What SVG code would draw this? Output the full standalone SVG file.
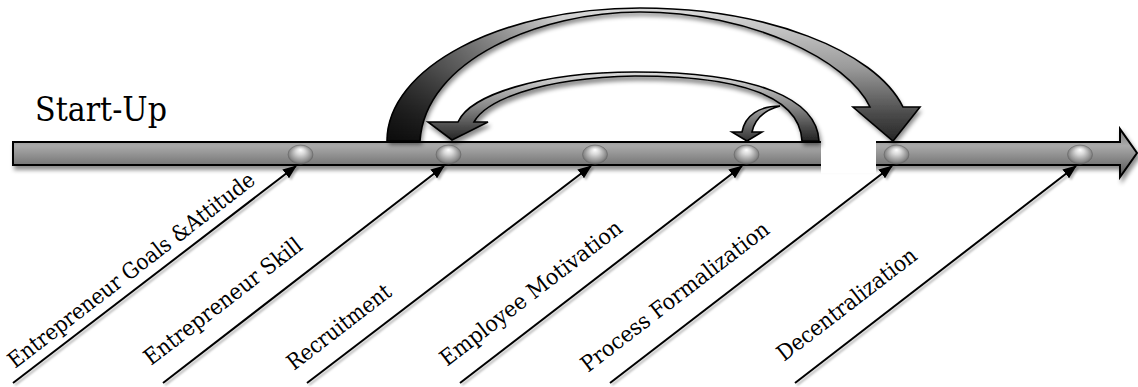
<svg xmlns="http://www.w3.org/2000/svg" width="1138" height="387" viewBox="0 0 1138 387">
  <defs>
    <style>
      .lbl { font-family: "DejaVu Serif", "Liberation Serif", serif; font-size: 22px; fill: #000; }
      .title { font-family: "DejaVu Serif", "Liberation Serif", serif; font-size: 34px; fill: #000; }
      .diag { stroke: #000; stroke-width: 2; fill: none; marker-end: url(#tri); }
      .arcline { stroke: #000; stroke-width: 1.6; stroke-linejoin: miter; }
      .bead { fill: url(#beadGrad); stroke: #6a6a6a; stroke-width: 0.6; }
    </style>
    <linearGradient id="barGrad" x1="0" y1="0" x2="0" y2="1">
      <stop offset="0" stop-color="#7c7c7c"/>
      <stop offset="0.35" stop-color="#aaaaaa"/>
      <stop offset="1" stop-color="#555555"/>
    </linearGradient>
    <linearGradient id="bigGrad" x1="0" y1="0" x2="0" y2="1">
      <stop offset="0" stop-color="#dadada"/>
      <stop offset="0.45" stop-color="#9a9a9a"/>
      <stop offset="0.8" stop-color="#4a4a4a"/>
      <stop offset="1" stop-color="#262626"/>
    </linearGradient>
    <linearGradient id="bigShade" gradientUnits="userSpaceOnUse" x1="387" y1="0" x2="560" y2="0">
      <stop offset="0" stop-color="#000" stop-opacity="0.7"/>
      <stop offset="0.5" stop-color="#000" stop-opacity="0.35"/>
      <stop offset="1" stop-color="#000" stop-opacity="0"/>
    </linearGradient>
    <linearGradient id="midGrad" x1="0" y1="0" x2="0" y2="1">
      <stop offset="0" stop-color="#dddddd"/>
      <stop offset="0.5" stop-color="#888888"/>
      <stop offset="1" stop-color="#222222"/>
    </linearGradient>
    <linearGradient id="smallGrad" x1="0" y1="0" x2="0" y2="1">
      <stop offset="0" stop-color="#aaaaaa"/>
      <stop offset="1" stop-color="#333333"/>
    </linearGradient>
    <radialGradient id="beadGrad" cx="0.5" cy="0.5" r="0.6" fx="0.5" fy="0.25">
      <stop offset="0" stop-color="#ffffff"/>
      <stop offset="0.3" stop-color="#d8d8d8"/>
      <stop offset="0.75" stop-color="#8a8a8a"/>
      <stop offset="1" stop-color="#4a4a4a"/>
    </radialGradient>
    <filter id="shadow" x="-10%" y="-20%" width="120%" height="160%">
      <feDropShadow dx="2" dy="4" stdDeviation="2.2" flood-color="#000" flood-opacity="0.45"/>
    </filter>
    <filter id="lshadow" x="-10%" y="-10%" width="120%" height="120%">
      <feDropShadow dx="2" dy="2" stdDeviation="1.2" flood-color="#000" flood-opacity="0.3"/>
    </filter>
    <marker id="tri" markerUnits="userSpaceOnUse" markerWidth="14" markerHeight="11" refX="13" refY="5.5" orient="auto">
      <path d="M0,0 L14,5.5 L0,11 Z" fill="#000"/>
    </marker>
    <path id="bigArc" d="M387,141 C387,68 500,8 640,8 C765,8 875,50 903,107 L920,107 L893,141 L853,107 L870,107 C848,60 750,12 640,12 C540,12 425,60 420,141 Z"/>
  </defs>

  <rect width="1138" height="387" fill="#ffffff"/>

  <g id="title">
    <text class="title" x="35" y="121" textLength="132" lengthAdjust="spacingAndGlyphs">Start-Up</text>
  </g>

  <g id="timeline">
    <path d="M13,142 H1120 V129 L1137,153 L1120,177 V165 H13 Z" fill="url(#barGrad)" stroke="#000" stroke-width="2" filter="url(#shadow)"/>
    <rect x="821" y="140.5" width="55" height="33" fill="#ffffff"/>
  </g>

  <g id="connectors">
    <g id="feedback-arcs">
      <g filter="url(#shadow)">
        <use href="#bigArc" fill="url(#bigGrad)"/>
      </g>
      <use href="#bigArc" fill="url(#bigShade)" class="arcline"/>
      <path class="arcline" fill="url(#midGrad)" filter="url(#shadow)" d="M819,141 C817,100 760,72 635,72 C540,72 470,95 458,122 L428,122 L452,140 L488,122 L474,122 C485,102 535,78 635,76 C750,76 800,100 802,141 Z"/>
      <path class="arcline" fill="url(#smallGrad)" stroke-width="1.2" d="M780,106 C760,106 745,115 742,132 L732,132 L747,141 L762,132 L752,132 C755,118 765,110 780,106 Z"/>
    </g>
    <g id="input-lines" filter="url(#lshadow)">
      <line class="diag" x1="13" y1="383" x2="296" y2="166"/>
      <line class="diag" x1="163" y1="383" x2="444" y2="166"/>
      <line class="diag" x1="307" y1="383" x2="591" y2="166"/>
      <line class="diag" x1="460" y1="383" x2="742" y2="166"/>
      <line class="diag" x1="610" y1="383" x2="892" y2="166"/>
      <line class="diag" x1="795" y1="383" x2="1076" y2="166"/>
    </g>
  </g>

  <g id="node-1">
    <ellipse class="bead" cx="300.5" cy="154.5" rx="12.5" ry="9.5"/>
    <text class="lbl" transform="translate(15,369) rotate(-37.6)" textLength="305" lengthAdjust="spacingAndGlyphs">Entrepreneur Goals &amp;Attitude</text>
  </g>
  <g id="node-2">
    <ellipse class="bead" cx="448.5" cy="154.5" rx="12.5" ry="9.5"/>
    <text class="lbl" transform="translate(151,366) rotate(-37.6)" textLength="193" lengthAdjust="spacingAndGlyphs">Entrepreneur Skill</text>
  </g>
  <g id="node-3">
    <ellipse class="bead" cx="595" cy="154.5" rx="12.5" ry="9.5"/>
    <text class="lbl" transform="translate(294,371) rotate(-37.6)" textLength="125" lengthAdjust="spacingAndGlyphs">Recruitment</text>
  </g>
  <g id="node-4">
    <ellipse class="bead" cx="746.5" cy="154.5" rx="12.5" ry="9.5"/>
    <text class="lbl" transform="translate(447,367) rotate(-37.6)" textLength="223" lengthAdjust="spacingAndGlyphs">Employee Motivation</text>
  </g>
  <g id="node-5">
    <ellipse class="bead" cx="896.5" cy="154.5" rx="12.5" ry="9.5"/>
    <text class="lbl" transform="translate(588,373) rotate(-37.6)" textLength="231" lengthAdjust="spacingAndGlyphs">Process Formalization</text>
  </g>
  <g id="node-6">
    <ellipse class="bead" cx="1080" cy="154.5" rx="12.5" ry="9.5"/>
    <text class="lbl" transform="translate(784,362) rotate(-37.6)" textLength="170" lengthAdjust="spacingAndGlyphs">Decentralization</text>
  </g>
</svg>
